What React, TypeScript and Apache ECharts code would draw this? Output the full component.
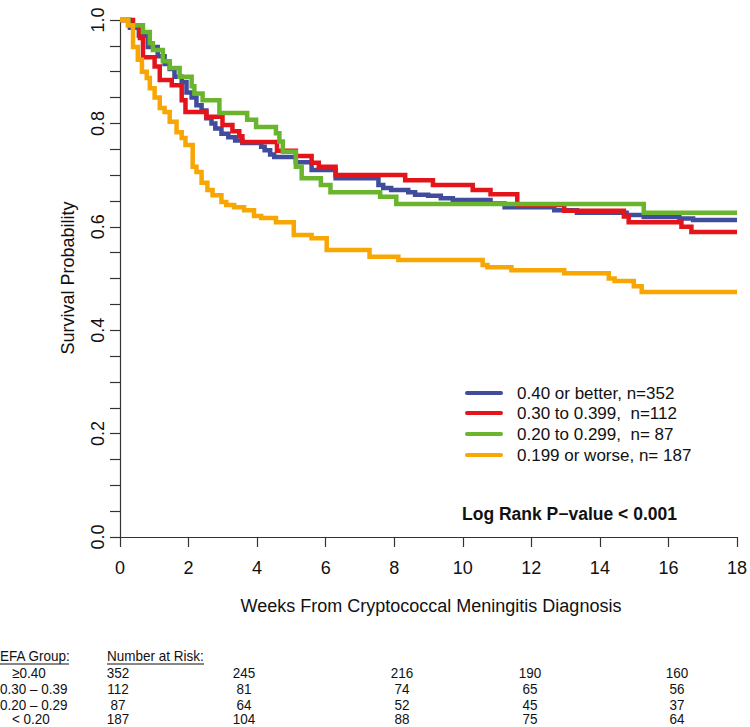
import React, { useEffect, useRef } from "react";
import * as echarts from "echarts";

// ---- Data ----
const seriesNames = [
  "0.40 or better, n=352",
  "0.30 to 0.399,  n=112",
  "0.20 to 0.299,  n= 87",
  "0.199 or worse, n= 187",
];
const seriesColors = ["#404C9C", "#E4141B", "#6BB42E", "#F8A603"];

const efa040: [number, number][] = [
  [0, 1.0], [0.29, 0.985], [0.55, 0.97], [0.81, 0.948], [1.1, 0.93], [1.3, 0.915],
  [1.45, 0.905], [1.59, 0.89], [1.8, 0.88], [1.94, 0.86], [2.09, 0.85], [2.23, 0.835],
  [2.38, 0.825], [2.52, 0.81], [2.67, 0.8], [2.78, 0.79], [2.96, 0.78], [3.16, 0.773],
  [3.36, 0.767], [3.57, 0.762], [4.12, 0.755], [4.22, 0.748], [4.38, 0.74], [4.5, 0.735],
  [5.13, 0.725], [5.59, 0.71], [6.29, 0.694], [7.54, 0.681], [7.68, 0.675], [7.91, 0.671],
  [8.41, 0.667], [8.61, 0.662], [8.99, 0.66], [9.36, 0.655], [9.71, 0.652], [10.81, 0.645],
  [11.22, 0.638], [12.67, 0.632], [13.33, 0.627], [14.78, 0.623], [15.28, 0.619],
  [16.32, 0.616], [16.72, 0.613], [18, 0.613],
];
const efa030: [number, number][] = [
  [0, 1.0], [0.38, 0.99], [0.58, 0.965], [0.67, 0.928], [1.01, 0.91], [1.16, 0.884],
  [1.51, 0.874], [1.8, 0.845], [1.91, 0.822], [2.52, 0.813], [2.99, 0.797], [3.28, 0.785],
  [3.48, 0.775], [3.57, 0.764], [4.58, 0.747], [5.13, 0.737], [5.59, 0.724], [5.8, 0.716],
  [6.29, 0.7], [8.32, 0.69], [9.13, 0.681], [10.29, 0.671], [10.81, 0.663], [11.59, 0.642],
  [12.96, 0.631], [14.7, 0.62], [14.84, 0.609], [16.38, 0.6], [16.67, 0.59], [18, 0.59],
];
const efa020: [number, number][] = [
  [0, 1.0], [0.25, 0.99], [0.67, 0.977], [0.87, 0.955], [0.96, 0.942], [1.25, 0.92],
  [1.45, 0.907], [1.74, 0.89], [2.09, 0.872], [2.17, 0.858], [2.41, 0.845], [2.9, 0.82],
  [3.71, 0.807], [3.97, 0.793], [4.55, 0.781], [4.65, 0.765], [4.75, 0.745], [5.13, 0.716],
  [5.3, 0.694], [5.86, 0.681], [6.14, 0.667], [7.59, 0.658], [8.06, 0.644], [15.28, 0.627],
  [18, 0.627],
];
const efa019: [number, number][] = [
  [0, 1.0], [0.23, 0.99], [0.38, 0.948], [0.52, 0.923], [0.64, 0.9], [0.78, 0.888],
  [0.87, 0.868], [1.01, 0.85], [1.16, 0.83], [1.3, 0.822], [1.45, 0.803], [1.65, 0.783],
  [1.8, 0.772], [1.91, 0.758], [2.12, 0.716], [2.23, 0.706], [2.38, 0.685], [2.55, 0.671],
  [2.7, 0.661], [2.96, 0.648], [3.1, 0.642], [3.33, 0.638], [3.62, 0.632], [3.91, 0.621],
  [4.12, 0.617], [4.55, 0.609], [5.07, 0.584], [5.59, 0.578], [6.03, 0.555], [7.28, 0.542],
  [8.12, 0.536], [10.58, 0.526], [10.72, 0.522], [11.42, 0.516], [12.96, 0.51], [14.26, 0.5],
  [14.43, 0.495], [14.99, 0.485], [15.22, 0.474], [18, 0.474],
];
const allSeries = [efa040, efa030, efa020, efa019];

const xTitle = "Weeks From Cryptococcal Meningitis Diagnosis";
const yTitle = "Survival Probability";
const pValueText = "Log Rank P\u2212value < 0.001";

const riskHeaderGroup = "EFA Group:";
const riskHeaderCount = "Number at Risk:";
const riskGroups = ["\u22650.40", "0.30 \u2013 0.39", "0.20 \u2013 0.29", "< 0.20"];
const riskCounts = [
  [352, 245, 216, 190, 160],
  [112, 81, 74, 65, 56],
  [87, 64, 52, 45, 37],
  [187, 104, 88, 75, 64],
];

const FONT = "'Liberation Sans', Arial, Helvetica, sans-serif";

export default function App() {
  const ref = useRef<HTMLDivElement>(null);

  useEffect(() => {
    if (!ref.current) return;
    const chart = echarts.init(ref.current, undefined, { renderer: "svg" });
    const axisColor = "#333";

    const graphics: any[] = [];
    // axis titles
    graphics.push({
      type: "text",
      x: 431,
      y: 606,
      style: { text: xTitle, font: `18px ${FONT}`, fill: "#111", align: "center", verticalAlign: "middle" },
    });
    graphics.push({
      type: "text",
      x: 68,
      y: 278,
      rotation: Math.PI / 2,
      style: { text: yTitle, font: `18px ${FONT}`, fill: "#111", align: "center", verticalAlign: "middle" },
    });
    // legend
    const legY = [393, 413, 434, 455];
    seriesNames.forEach((n, i) => {
      graphics.push({
        type: "line",
        shape: { x1: 467, y1: legY[i], x2: 501, y2: legY[i] },
        style: { stroke: seriesColors[i], lineWidth: 4, lineCap: "round" },
      });
      graphics.push({
        type: "text",
        x: 517,
        y: legY[i],
        style: { text: n, font: `17px ${FONT}`, fill: "#111", align: "left", verticalAlign: "middle" },
      });
    });
    graphics.push({
      type: "text",
      x: 462,
      y: 514,
      style: { text: pValueText, font: `bold 17.5px ${FONT}`, fill: "#111", align: "left", verticalAlign: "middle" },
    });
    // risk table (condensed look: horizontal scale)
    const tFont = `15px ${FONT}`;
    const sx = 0.9;
    const tText = (text: string, x: number, y: number, align: string) => ({
      type: "text",
      x,
      y,
      scaleX: sx,
      style: { text, font: tFont, fill: "#111", align, verticalAlign: "middle" },
    });
    graphics.push(tText(riskHeaderGroup, 0, 656, "left"));
    graphics.push({
      type: "line", shape: { x1: 0, y1: 664, x2: 69, y2: 664 },
      style: { stroke: "#111", lineWidth: 1 },
    });
    graphics.push(tText(riskHeaderCount, 107, 656, "left"));
    graphics.push({
      type: "line", shape: { x1: 107, y1: 664, x2: 204, y2: 664 },
      style: { stroke: "#111", lineWidth: 1 },
    });
    const rowY = [673, 689, 705, 719];
    const rowX = [12, 0, 0, 12];
    const colX = [118, 244, 402, 530, 677];
    riskGroups.forEach((g, r) => {
      graphics.push(tText(g, rowX[r], rowY[r], "left"));
      riskCounts[r].forEach((c, k) => {
        graphics.push(tText(String(c), colX[k], rowY[r], "center"));
      });
    });

    chart.setOption({
      animation: false,
      backgroundColor: "#fff",
      grid: { left: 120, top: 20, width: 620, height: 517, containLabel: false },
      xAxis: {
        type: "value",
        min: 0,
        max: 18,
        interval: 2,
        axisLine: { show: true, onZero: false, lineStyle: { color: axisColor, width: 1.2 } },
        axisTick: { show: true, length: 10, lineStyle: { color: axisColor, width: 1.2 } },
        axisLabel: { fontSize: 18, color: "#111", margin: 22, fontFamily: FONT },
        splitLine: { show: false },
      },
      yAxis: {
        type: "value",
        min: 0,
        max: 1,
        interval: 0.05,
        axisLine: { show: true, lineStyle: { color: axisColor, width: 1.2 } },
        axisTick: { show: true, length: 10, lineStyle: { color: axisColor, width: 1.2 } },
        axisLabel: {
          fontSize: 18,
          color: "#111",
          fontFamily: FONT,
          rotate: 90,
          margin: 13,
          showMinLabel: true,
          showMaxLabel: true,
          formatter: (v: number) => (Math.round(v * 100) % 20 === 0 ? v.toFixed(1) : ""),
        },
        splitLine: { show: false },
      },
      series: allSeries.map((d, i) => ({
        type: "line",
        name: seriesNames[i],
        data: d,
        step: "end",
        showSymbol: false,
        symbol: "none",
        clip: false,
        silent: true,
        z: 2 + i,
        lineStyle: { color: seriesColors[i], width: 4.5, cap: "butt", join: "miter" },
      })),
      graphic: graphics,
    });

    return () => chart.dispose();
  }, []);

  return (
    <div
      ref={ref}
      style={{ position: "fixed", left: 0, top: 0, width: 750, height: 727, background: "#fff" }}
    />
  );
}
